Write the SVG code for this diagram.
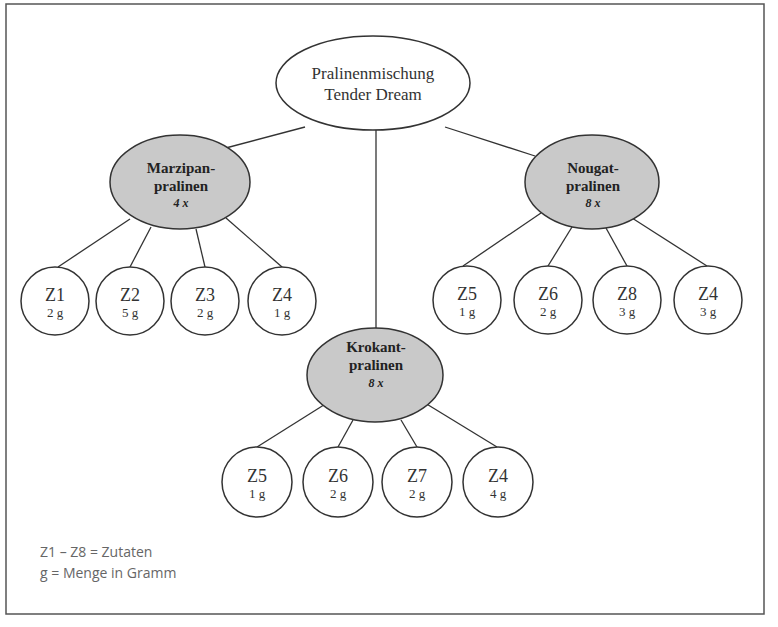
<svg xmlns="http://www.w3.org/2000/svg" width="778" height="627" viewBox="0 0 778 627">
<style>
.frame{fill:none;stroke:#555;stroke-width:1.5}
.root{fill:#fff;stroke:#333;stroke-width:1.5}
.mid{fill:#c9c9c9;stroke:#333;stroke-width:1.5}
.leaf{fill:#fff;stroke:#333;stroke-width:1.5}
.conn line{stroke:#333;stroke-width:1.3}
text{font-family:"Liberation Serif","Times New Roman",serif;fill:#333;text-anchor:middle}
.rt{font-size:17px}
.mt{font-size:15px;font-weight:bold;fill:#222}
.mx{font-size:12px;font-weight:bold;font-style:italic;fill:#222}
.zt{font-size:18px}
.gt{font-size:13px}
.leg{font-family:"Open Sans","DejaVu Sans",sans-serif;font-size:14px;fill:#666;text-anchor:start}
</style>
<rect class="frame" x="6" y="4" width="758" height="610"/>
<g id="connectors" class="conn">
<line x1="305" y1="127" x2="222" y2="149"/>
<line x1="445" y1="127" x2="535" y2="156"/>
<line x1="376" y1="130" x2="376" y2="328"/>
<line x1="130" y1="219" x2="58" y2="267"/>
<line x1="151" y1="227" x2="130" y2="267"/>
<line x1="196" y1="229" x2="205" y2="267"/>
<line x1="226" y1="218" x2="282" y2="267"/>
<line x1="541" y1="213" x2="463" y2="266"/>
<line x1="572" y1="227" x2="548" y2="266"/>
<line x1="606" y1="228" x2="627" y2="266"/>
<line x1="632" y1="218" x2="707" y2="266"/>
<line x1="327" y1="403" x2="257" y2="447"/>
<line x1="353" y1="420" x2="338" y2="447"/>
<line x1="401" y1="420" x2="417" y2="447"/>
<line x1="425" y1="403" x2="497" y2="447"/>
</g>
<g id="root">
<ellipse class="root" cx="373" cy="83" rx="97" ry="47"/>
<text class="rt" x="373" y="79">Pralinenmischung</text>
<text class="rt" x="373" y="100">Tender Dream</text>
</g>
<g id="marzipan">
<ellipse class="mid" cx="180" cy="182" rx="70" ry="47"/>
<text class="mt" x="181" y="173">Marzipan-</text>
<text class="mt" x="181" y="191">pralinen</text>
<text class="mx" x="181" y="207">4 x</text>
</g>
<g id="nougat">
<ellipse class="mid" cx="592" cy="182" rx="67" ry="47"/>
<text class="mt" x="593" y="173">Nougat-</text>
<text class="mt" x="593" y="191">pralinen</text>
<text class="mx" x="593" y="207">8 x</text>
</g>
<g id="krokant">
<ellipse class="mid" cx="375" cy="375" rx="68" ry="47"/>
<text class="mt" x="376" y="352">Krokant-</text>
<text class="mt" x="376" y="370">pralinen</text>
<text class="mx" x="376" y="387">8 x</text>
</g>
<g id="m-z1"><circle class="leaf" cx="55" cy="301" r="34"/><text class="zt" x="55" y="301">Z1</text><text class="gt" x="55" y="317">2 g</text></g>
<g id="m-z2"><circle class="leaf" cx="130" cy="301" r="34"/><text class="zt" x="130" y="301">Z2</text><text class="gt" x="130" y="317">5 g</text></g>
<g id="m-z3"><circle class="leaf" cx="205" cy="301" r="34"/><text class="zt" x="205" y="301">Z3</text><text class="gt" x="205" y="317">2 g</text></g>
<g id="m-z4"><circle class="leaf" cx="282" cy="301" r="34"/><text class="zt" x="282" y="301">Z4</text><text class="gt" x="282" y="317">1 g</text></g>
<g id="n-z5"><circle class="leaf" cx="467" cy="300" r="34"/><text class="zt" x="467" y="300">Z5</text><text class="gt" x="467" y="316">1 g</text></g>
<g id="n-z6"><circle class="leaf" cx="548" cy="300" r="34"/><text class="zt" x="548" y="300">Z6</text><text class="gt" x="548" y="316">2 g</text></g>
<g id="n-z8"><circle class="leaf" cx="627" cy="300" r="34"/><text class="zt" x="627" y="300">Z8</text><text class="gt" x="627" y="316">3 g</text></g>
<g id="n-z4"><circle class="leaf" cx="708" cy="300" r="34"/><text class="zt" x="708" y="300">Z4</text><text class="gt" x="708" y="316">3 g</text></g>
<g id="k-z5"><circle class="leaf" cx="257" cy="482" r="35"/><text class="zt" x="257" y="482">Z5</text><text class="gt" x="257" y="498">1 g</text></g>
<g id="k-z6"><circle class="leaf" cx="338" cy="482" r="35"/><text class="zt" x="338" y="482">Z6</text><text class="gt" x="338" y="498">2 g</text></g>
<g id="k-z7"><circle class="leaf" cx="417" cy="482" r="35"/><text class="zt" x="417" y="482">Z7</text><text class="gt" x="417" y="498">2 g</text></g>
<g id="k-z4"><circle class="leaf" cx="498" cy="482" r="35"/><text class="zt" x="498" y="482">Z4</text><text class="gt" x="498" y="498">4 g</text></g>
<g id="legend">
<text class="leg" x="40" y="557">Z1 – Z8 = Zutaten</text>
<text class="leg" x="40" y="578">g = Menge in Gramm</text>
</g>
</svg>
